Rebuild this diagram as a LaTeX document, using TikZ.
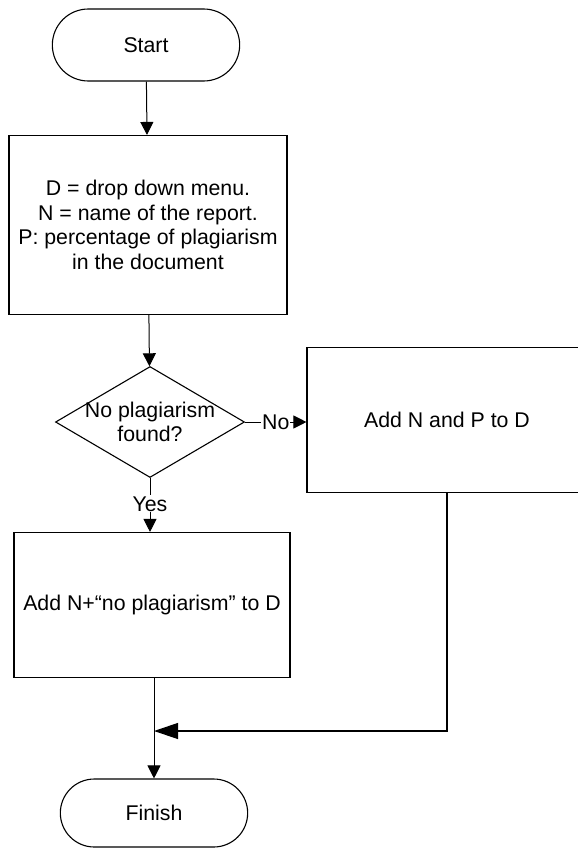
\documentclass[tikz,border=0pt]{standalone}
\usepackage{fontspec}
\setmainfont{Liberation Sans}
\usetikzlibrary{shapes.geometric,shapes.misc,arrows.meta}
\newcommand{\flowfont}{\fontsize{21.3}{24.7}\selectfont}

\begin{document}
\begin{tikzpicture}[x=1pt,y=-1pt,
   box/.style={draw,line width=1.1pt,rectangle,align=center,font=\flowfont},
   term/.style={draw,line width=1.1pt,rounded rectangle,minimum width=194pt,minimum height=72pt,font=\flowfont},
   decision/.style={draw,line width=1.1pt,diamond,minimum width=189pt,minimum height=111pt,inner sep=0pt},
   flow/.style={line width=1pt,-{Triangle[length=13pt,width=13pt]}},
   tag/.style={fill=white,inner sep=1pt,font=\flowfont}]
   \useasboundingbox (0,0) rectangle (578,849);
   \clip (0,0) rectangle (578,849);
   \fill[white] (0,0) rectangle (578,849);
   \node[term] (start) at (146,45) {Start};
   \node[box,minimum width=278pt,minimum height=179pt] (defs) at (148,225)
      {D = drop down menu.\\N = name of the report.\\P: percentage of plagiarism\\in the document};
   \node[decision,label={[align=center,font=\flowfont]center:No plagiarism\\found?}] (found) at (150,422) {};
   \node[box,minimum width=280pt,minimum height=145pt] (addnp) at (447,420) {Add N and P to D};
   \node[box,minimum width=276pt,minimum height=145pt] (addn) at (152,605) {Add N+“no plagiarism” to D};
   \node[term,minimum height=68pt] (finish) at (154,813) {Finish};
   \coordinate (join) at (154,731);
   \draw[flow] (start) -- (defs);
   \draw[flow] (defs) -- (found);
   \draw[flow] (found.east) -- node[tag]{No} (found.east -| addnp.west);
   \draw[flow] (found.south) -- node[tag,pos=0.48]{Yes} (found.south |- addn.north);
   \draw[flow] (addn.south -| join) -- (finish.north -| join);
   \draw[line width=1.2pt,-{Triangle[length=24pt,width=16pt]}] (addnp.south) |- (join);
\end{tikzpicture}
\end{document}
